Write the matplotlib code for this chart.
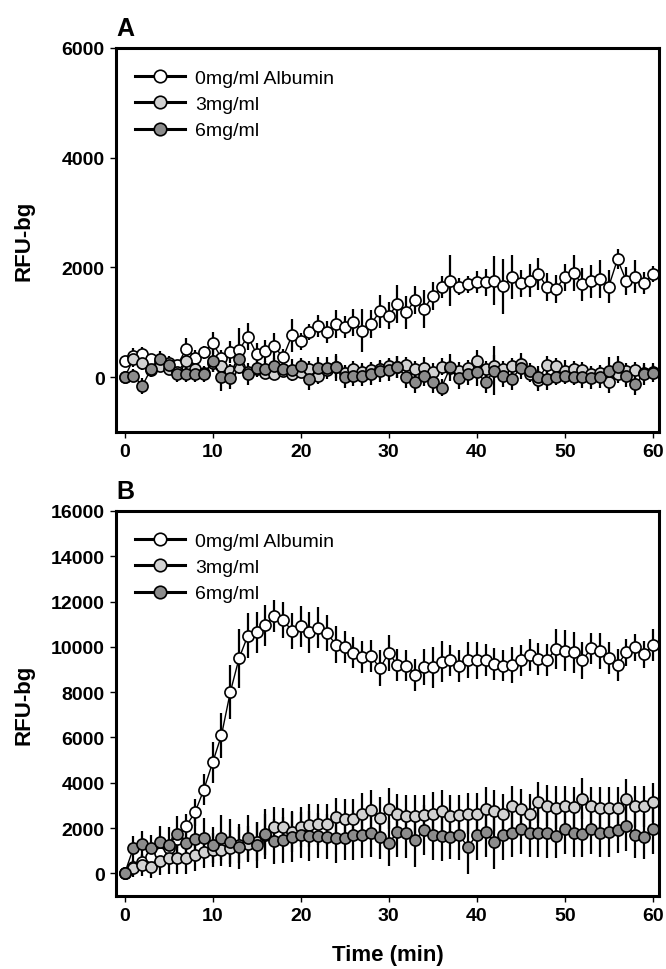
import matplotlib
matplotlib.use("Agg")
import matplotlib.pyplot as plt
from matplotlib.lines import Line2D

plt.rcParams['font.family'] = ['Liberation Sans', 'DejaVu Sans']

time_min = list(range(61))
labels = ["0mg/ml Albumin", "3mg/ml", "6mg/ml"]
colors = ["white", "#d2d2d2", "#8c8c8c"]

# Panel A
a_0mg = [300, 380, 430, 330, 300, 250, 220, 520, 350, 450, 620, 350, 450, 500, 740, 420,
         480, 560, 360, 760, 650, 820, 940, 820, 970, 910, 1000, 850, 970, 1200, 1120,
         1330, 1180, 1410, 1240, 1480, 1650, 1760, 1650, 1690, 1730, 1730, 1760, 1660,
         1820, 1710, 1760, 1880, 1640, 1610, 1820, 1900, 1690, 1750, 1790, 1650, 2150,
         1750, 1830, 1710, 1880]
a_3mg = [0, 330, 250, 130, 200, 150, 100, 300, 150, 80, 250, 200, 120, 180, 100, 150, 80,
         60, 120, 50, 100, 150, 30, 130, 180, 80, 150, 100, 130, 150, 200, 180, 220, 150,
         170, 100, 190, 170, 120, 160, 290, 150, 210, 140, 200, 240, 60, -50, 230, 200,
         120, 150, 130, 60, 80, -80, 50, 110, 130, 80, 100]
a_6mg = [0, 30, -160, 150, 330, 230, 60, 60, 60, 60, 290, 0, -20, 330, 60, 160, 150, 200,
         150, 130, 200, -30, 160, 160, 180, 0, 30, 30, 50, 120, 130, 190, 0, -90, 30, -90,
         -190, 180, -10, 60, 90, -90, 120, 20, -30, 170, 110, 10, -30, 0, 30, 10, 0, -20,
         10, 120, 190, 20, -130, 60, 70]
a_0mg_err = [80, 150, 120, 100, 100, 100, 100, 200, 150, 120, 200, 150, 200, 400, 250, 200,
             200, 250, 150, 300, 150, 150, 200, 200, 250, 200, 250, 400, 250, 300, 250, 350,
             300, 250, 350, 250, 200, 470, 150, 150, 200, 250, 450, 500, 400, 250, 300, 300,
             250, 250, 250, 330, 300, 300, 350, 300, 180, 250, 300, 200, 150]
a_3mg_err = [50, 150, 120, 100, 100, 100, 100, 150, 100, 100, 150, 120, 120, 120, 100, 100,
             100, 120, 100, 100, 120, 150, 150, 100, 200, 150, 150, 150, 150, 150, 150, 200,
             150, 150, 200, 150, 150, 150, 150, 150, 200, 150, 200, 150, 150, 200, 150, 200,
             150, 150, 200, 150, 150, 150, 150, 200, 150, 150, 150, 150, 150]
a_6mg_err = [50, 120, 150, 150, 150, 150, 150, 150, 150, 150, 200, 250, 200, 200, 200, 150,
             150, 150, 150, 200, 150, 200, 200, 200, 250, 200, 200, 200, 200, 200, 200, 200,
             200, 200, 200, 200, 150, 250, 200, 200, 250, 200, 450, 200, 200, 200, 150, 200,
             200, 150, 150, 150, 200, 200, 200, 250, 200, 200, 200, 200, 150]

# Panel B
b_0mg = [0, 300, 500, 700, 900, 1100, 1500, 2100, 2700, 3700, 4900, 6100, 8000, 9500,
         10500, 10650, 10950, 11350, 11200, 10700, 10900, 10650, 10850, 10600, 10100,
         9980, 9750, 9550, 9600, 9050, 9730, 9200, 9170, 8760, 9100, 9100, 9350, 9400,
         9140, 9430, 9400, 9430, 9250, 9170, 9200, 9400, 9640, 9460, 9430, 9900, 9830,
         9760, 9400, 9930, 9800, 9500, 9200, 9760, 9980, 9680, 10080]
b_3mg = [0, 250, 370, 290, 540, 660, 660, 660, 810, 950, 1030, 1030, 1100, 1250, 1300,
         1400, 1700, 2050, 2050, 1830, 2050, 2130, 2160, 2160, 2490, 2390, 2390, 2600,
         2790, 2450, 2860, 2640, 2540, 2540, 2570, 2640, 2760, 2540, 2570, 2640, 2640,
         2860, 2760, 2600, 2960, 2860, 2600, 3130, 2980, 2890, 2960, 2930, 3300, 2960,
         2890, 2890, 2890, 3270, 2960, 2960, 3130]
b_6mg = [0, 1130, 1290, 1100, 1390, 1250, 1720, 1320, 1510, 1540, 1250, 1570, 1390, 1170,
         1570, 1250, 1720, 1420, 1470, 1610, 1690, 1660, 1660, 1610, 1570, 1570, 1690, 1690,
         1800, 1610, 1320, 1830, 1760, 1470, 1910, 1690, 1640, 1610, 1690, 1170, 1690, 1830,
         1390, 1690, 1800, 1950, 1800, 1800, 1760, 1660, 1950, 1800, 1720, 1950, 1800, 1830,
         1910, 2100, 1690, 1610, 1950]
b_0mg_err = [50, 300, 300, 300, 300, 400, 400, 500, 600, 700, 900, 1000, 1200, 1300, 1000,
             900, 900, 700, 800, 800, 900, 900, 900, 800, 800, 700, 700, 700, 700, 800, 800,
             700, 700, 700, 800, 900, 900, 700, 700, 800, 800, 700, 700, 700, 800, 700, 700,
             700, 700, 900, 900, 900, 800, 700, 800, 700, 700, 600, 600, 600, 700]
b_3mg_err = [50, 400, 500, 500, 600, 700, 700, 700, 700, 700, 750, 700, 800, 800, 800, 850,
             900, 900, 850, 900, 900, 950, 900, 900, 850, 900, 900, 950, 900, 900, 900, 850,
             900, 900, 900, 950, 900, 900, 900, 900, 900, 950, 900, 900, 900, 850, 900, 900,
             900, 950, 900, 900, 900, 850, 900, 900, 900, 900, 900, 900, 850]
b_6mg_err = [50, 500, 600, 600, 700, 800, 800, 800, 900, 900, 800, 1000, 1000, 1000, 1000,
             1000, 1100, 1000, 1000, 1100, 1000, 1100, 1000, 1000, 1100, 1000, 1100, 1000,
             1100, 1000, 1000, 1100, 1100, 1200, 1100, 1100, 1100, 1000, 1100, 1200, 1100,
             1100, 1200, 1100, 1100, 1100, 1100, 1100, 1100, 1000, 1100, 1100, 1000, 1100,
             1100, 1100, 1000, 1100, 1000, 1000, 1100]


def draw_panel(ax, series, errors, ylim, yticks, letter):
    for vals, errs, col in zip(series, errors, colors):
        ax.errorbar(time_min, vals, yerr=errs, fmt='-o', color='black', lw=1.0,
                    elinewidth=1.6, capsize=0, markersize=8, markerfacecolor=col,
                    markeredgecolor='black', markeredgewidth=1.2)
    ax.set_xlim(-1, 60.7)
    ax.set_ylim(*ylim)
    ax.set_xticks([0, 10, 20, 30, 40, 50, 60])
    ax.set_yticks(yticks)
    for s in ax.spines.values():
        s.set_linewidth(2.2)
    ax.tick_params(direction='out', length=4, width=1.0, labelsize=14, pad=4)
    for lab in ax.get_xticklabels() + ax.get_yticklabels():
        lab.set_fontweight('bold')
    ax.set_ylabel("RFU-bg", fontsize=16, fontweight='bold')
    ax.yaxis.set_label_coords(-0.149, 0.5)
    ax.text(0.0, 1.033, letter, transform=ax.transAxes, fontsize=18,
            fontweight='bold', ha='left', va='baseline')
    handles = [Line2D([0], [0], color='black', lw=2.2, marker='o', markersize=9,
                      markerfacecolor=c, markeredgecolor='black', markeredgewidth=1.2)
               for c in colors]
    ax.legend(handles, labels, loc='upper left', bbox_to_anchor=(0.035, 0.945),
              frameon=False, fontsize=14, handlelength=2.6, handletextpad=0.5,
              labelspacing=0.45, borderaxespad=0, borderpad=0)


fig = plt.figure(figsize=(6.66, 9.70), dpi=100)
ax_a = fig.add_axes([0.174, 0.5536, 0.8153, 0.3959])
ax_b = fig.add_axes([0.174, 0.0753, 0.8153, 0.3969])

draw_panel(ax_a, [a_0mg, a_3mg, a_6mg], [a_0mg_err, a_3mg_err, a_6mg_err],
           (-1000, 6000), [0, 2000, 4000, 6000], "A")
draw_panel(ax_b, [b_0mg, b_3mg, b_6mg], [b_0mg_err, b_3mg_err, b_6mg_err],
           (-1000, 16000), list(range(0, 16001, 2000)), "B")
ax_b.set_xlabel("Time (min)", fontsize=16, fontweight='bold')
ax_b.xaxis.set_label_coords(0.5, -0.125)

fig.savefig("out.png", dpi=100)
